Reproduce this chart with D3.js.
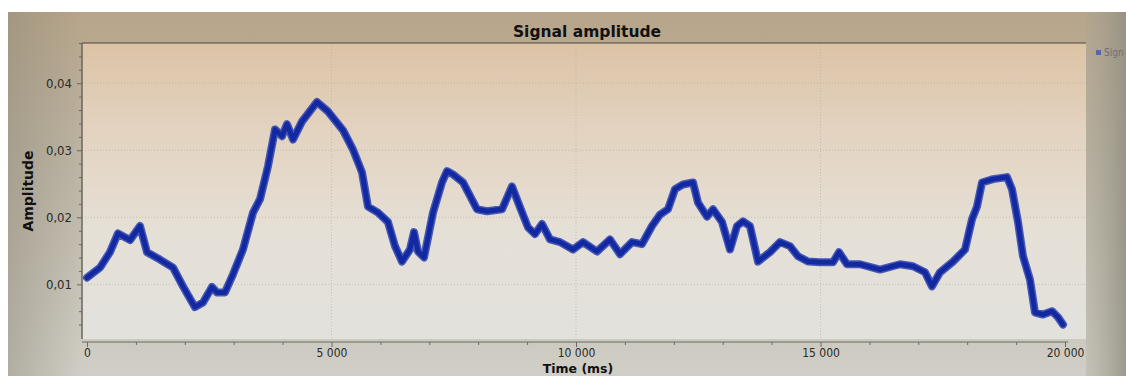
<!DOCTYPE html>
<html><head><meta charset="utf-8">
<script src="https://cdn.jsdelivr.net/npm/d3@7"></script>
<style>html,body{margin:0;padding:0;background:#fff;overflow:hidden}svg{display:block}</style>
</head><body>
<svg id="chart" width="1126" height="376"></svg>
<script>
// ---- data ----
const timeMs = [0,266,470,634,880,1084,1227,1493,1760,1963,2208,2372,2556,2658,2822,2986,3190,3395,3538,3701,3845,3988,4090,4213,4397,4703,4928,5235,5440,5624,5746,5951,6155,6299,6442,6605,6687,6769,6892,7076,7260,7362,7485,7689,7975,8180,8487,8691,8855,9018,9162,9305,9468,9673,9939,10143,10429,10695,10900,11145,11350,11554,11718,11881,12025,12188,12393,12495,12679,12802,12986,13149,13292,13415,13558,13722,13967,14172,14376,14540,14744,14990,15256,15378,15542,15808,16217,16626,16892,17137,17280,17444,17710,17955,18098,18200,18303,18528,18814,18916,19039,19141,19284,19387,19550,19734,19857,19959];
const amplitude = [0.0110,0.0125,0.0148,0.0176,0.0166,0.0187,0.0148,0.0137,0.0125,0.0097,0.0066,0.0073,0.0096,0.0088,0.0088,0.0115,0.0152,0.0207,0.0227,0.0276,0.0331,0.0321,0.0339,0.0316,0.0343,0.0372,0.0358,0.0330,0.0301,0.0267,0.0216,0.0207,0.0193,0.0157,0.0134,0.0152,0.0178,0.0149,0.0140,0.0207,0.0252,0.0269,0.0264,0.0252,0.0212,0.0209,0.0212,0.0246,0.0215,0.0185,0.0175,0.0190,0.0167,0.0163,0.0152,0.0163,0.0149,0.0167,0.0145,0.0163,0.0160,0.0187,0.0204,0.0212,0.0242,0.0249,0.0252,0.0222,0.0201,0.0212,0.0193,0.0152,0.0187,0.0194,0.0187,0.0134,0.0148,0.0163,0.0157,0.0142,0.0134,0.0133,0.0133,0.0148,0.0130,0.0130,0.0122,0.0130,0.0127,0.0118,0.0097,0.0118,0.0134,0.0152,0.0197,0.0216,0.0252,0.0257,0.0260,0.0242,0.0193,0.0142,0.0107,0.0058,0.0055,0.0060,0.0051,0.0040];
const xTicks = [0,5000,10000,15000,20000];
const xTickLabels = ["0","5 000","10 000","15 000","20 000"];
const yTicks = [0.01,0.02,0.03,0.04];
const yTickLabels = ["0,01","0,02","0,03","0,04"];
const title = "Signal amplitude";
const xTitle = "Time (ms)";
const yTitle = "Amplitude";
const seriesName = "Sign";

const svg = d3.select("#chart");
const defs = svg.append("defs");
const g1 = defs.append("linearGradient").attr("id","outer").attr("x1",0).attr("y1",0).attr("x2",0).attr("y2",1);
g1.append("stop").attr("offset","0").attr("stop-color","#b7a58a");
g1.append("stop").attr("offset","0.45").attr("stop-color","#bdb6a6");
g1.append("stop").attr("offset","1").attr("stop-color","#d0cec6");
const g2 = defs.append("linearGradient").attr("id","plotbg").attr("x1",0).attr("y1",0).attr("x2",0).attr("y2",1);
g2.append("stop").attr("offset","0").attr("stop-color","#dcc3a6");
g2.append("stop").attr("offset","0.3").attr("stop-color","#e3d3c0");
g2.append("stop").attr("offset","0.65").attr("stop-color","#e5e0d7");
g2.append("stop").attr("offset","1").attr("stop-color","#e2e1dc");
const g3 = defs.append("linearGradient").attr("id","rside").attr("x1",0).attr("y1",0).attr("x2",1).attr("y2",0);
g3.append("stop").attr("offset","0").attr("stop-color","#a9a595").attr("stop-opacity",0.3);
g3.append("stop").attr("offset","1").attr("stop-color","#8f8d80").attr("stop-opacity",0.8);
const g4 = defs.append("linearGradient").attr("id","lside").attr("x1",0).attr("y1",0).attr("x2",1).attr("y2",0);
g4.append("stop").attr("offset","0").attr("stop-color","#8c8676").attr("stop-opacity",0.45);
g4.append("stop").attr("offset","1").attr("stop-color","#8c8676").attr("stop-opacity",0);

// photo frame
svg.append("rect").attr("x",8).attr("y",12).attr("width",1118).attr("height",364).attr("fill","url(#outer)");
svg.append("rect").attr("x",8).attr("y",12).attr("width",74).attr("height",364).attr("fill","url(#lside)");
svg.append("rect").attr("x",1086).attr("y",12).attr("width",40).attr("height",364).attr("fill","url(#rside)");

const plot = {left:82, top:43, right:1086, bottom:339};
const x = d3.scaleLinear().domain([0,20000]).range([87,1065]);
const y = d3.scaleLinear().domain([0.002,0.046]).range([338,43]);

svg.append("rect").attr("x",plot.left).attr("y",plot.top)
  .attr("width",plot.right-plot.left).attr("height",plot.bottom-plot.top).attr("fill","url(#plotbg)");

// grid
const grid = svg.append("g").attr("stroke","#a8a095").attr("stroke-width",0.7).attr("stroke-dasharray","1,2").attr("opacity",0.7);
grid.selectAll("line.v").data(xTicks.filter(d=>d>0 && d<20000)).join("line")
  .attr("x1",d=>x(d)).attr("x2",d=>x(d)).attr("y1",plot.top).attr("y2",plot.bottom);
grid.selectAll("line.h").data(yTicks).join("line")
  .attr("x1",plot.left).attr("x2",plot.right).attr("y1",d=>y(d)).attr("y2",d=>y(d));

// plot border (top + left)
svg.append("line").attr("x1",plot.left).attr("x2",plot.right).attr("y1",plot.top).attr("y2",plot.top).attr("stroke","#4a4640").attr("stroke-width",1.2);
svg.append("line").attr("x1",plot.left).attr("x2",plot.left).attr("y1",plot.top).attr("y2",plot.bottom).attr("stroke","#6a665e").attr("stroke-width",1);

const font = "'DejaVu Sans Condensed','DejaVu Sans',sans-serif";

// x axis
const xAxis = d3.axisBottom(x).tickValues(xTicks).tickFormat((d,i)=>xTickLabels[i]).tickSize(5).tickPadding(1);
const xg = svg.append("g").attr("transform","translate(0,342)").call(xAxis);
xg.select(".domain").attr("d","M82,0H1068").attr("stroke","#6c6a66");
xg.selectAll(".tick line").attr("stroke","#6c6a66");
xg.selectAll(".tick text").attr("font-family",font).attr("font-size",12).attr("fill","#2a2a2a");
const xMinor = d3.axisBottom(x).tickValues(d3.range(1000,20000,1000).filter(d=>d%5000)).tickFormat("").tickSize(3);
const xm = svg.append("g").attr("transform","translate(0,342)").call(xMinor);
xm.select(".domain").remove();
xm.selectAll(".tick line").attr("stroke","#6c6a66");

// y axis
const yAxis = d3.axisLeft(y).tickValues(yTicks).tickFormat((d,i)=>yTickLabels[i]).tickSize(5).tickPadding(5);
const yg = svg.append("g").attr("transform","translate(82,0)").call(yAxis);
yg.select(".domain").attr("d","M0,43V339").attr("stroke","#6a665e");
yg.selectAll(".tick line").attr("stroke","#6a665e");
yg.selectAll(".tick text").attr("font-family",font).attr("font-size",13).attr("fill","#2a2a2a");
const yMinor = d3.axisLeft(y).tickValues(d3.range(0.004,0.0461,0.002).filter(d=>Math.abs(d*100-Math.round(d*100))>1e-6)).tickFormat("").tickSize(3);
const ym = svg.append("g").attr("transform","translate(82,0)").call(yMinor);
ym.select(".domain").remove();
ym.selectAll(".tick line").attr("stroke","#6a665e");

// series (thick noisy band look)
const pts = timeMs.map((t,i)=>[t,amplitude[i]]);
const line = d3.line().x(d=>x(d[0])).y(d=>y(d[1]));
svg.append("path").datum(pts).attr("d",line).attr("fill","none")
  .attr("stroke","#2a3fae").attr("stroke-width",8).attr("stroke-linejoin","round").attr("stroke-linecap","round").attr("opacity",0.85);
svg.append("path").datum(pts).attr("d",line).attr("fill","none")
  .attr("stroke","#1329a2").attr("stroke-width",5).attr("stroke-linejoin","round").attr("stroke-linecap","round");

// titles
svg.append("text").attr("x",587).attr("y",37).attr("text-anchor","middle")
  .attr("font-family","'DejaVu Sans',sans-serif").attr("font-weight","bold").attr("font-size",15.5).attr("fill","#111").text(title);
svg.append("text").attr("x",578).attr("y",373).attr("text-anchor","middle")
  .attr("font-family","'DejaVu Sans',sans-serif").attr("font-weight","bold").attr("font-size",12.5).attr("fill","#111").text(xTitle);
svg.append("text").attr("transform","translate(33,191) rotate(-90)").attr("text-anchor","middle")
  .attr("font-family","'DejaVu Sans',sans-serif").attr("font-weight","bold").attr("font-size",14).attr("fill","#111").text(yTitle);

// legend
svg.append("rect").attr("x",1096).attr("y",50).attr("width",5).attr("height",5).attr("fill","#5566aa");
svg.append("text").attr("x",1104).attr("y",56).attr("font-family",font).attr("font-size",10).attr("fill","#6e6e78").text(seriesName);
</script>
</body></html>
